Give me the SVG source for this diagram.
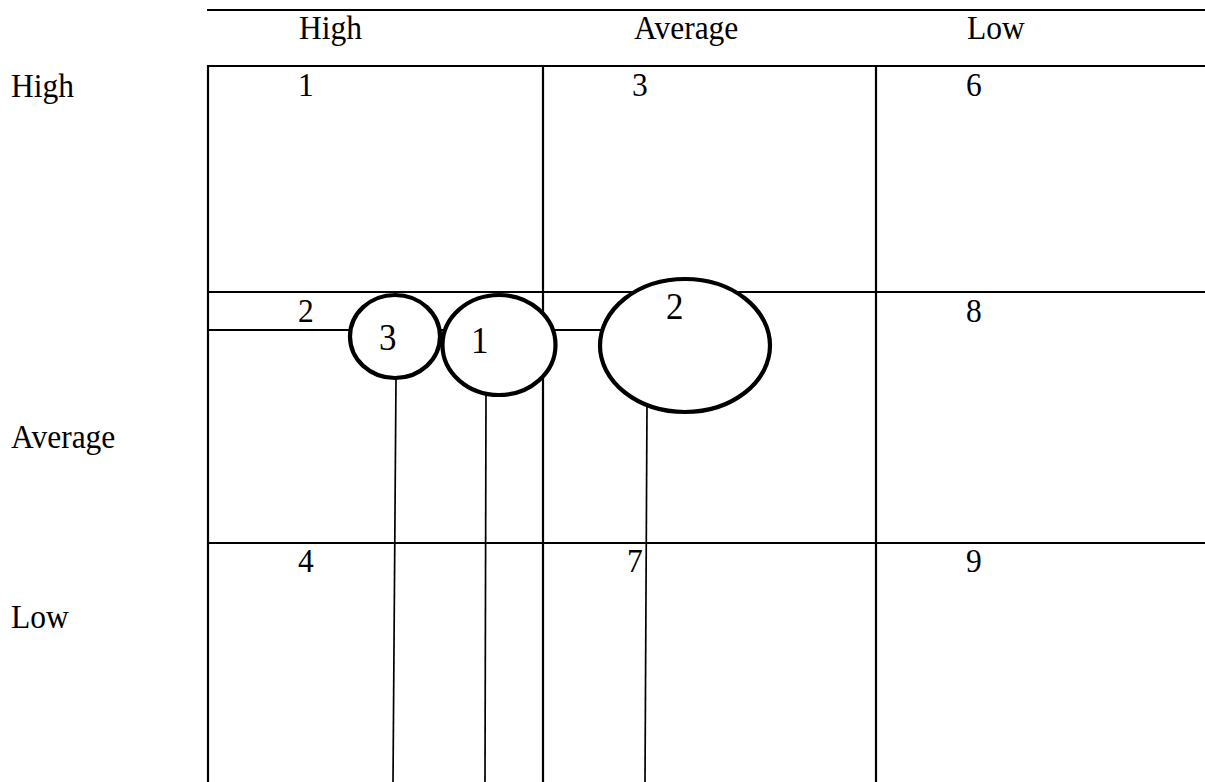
<svg xmlns="http://www.w3.org/2000/svg" width="1205" height="782" viewBox="0 0 1205 782">
<style>
.grid{stroke:#000;stroke-width:2.2;fill:none}
.conn{stroke:#000;stroke-width:1.7;fill:none}
.bub{stroke:#000;stroke-width:4.2;fill:#fff}
.t{font-family:"Liberation Serif","Times New Roman",serif;font-size:31.5px;fill:#000}
.tb{font-family:"Liberation Serif","Times New Roman",serif;font-size:35px;fill:#000}
</style>
<rect width="1205" height="782" fill="#fff"/>
<g id="grid">
<line class="grid" x1="207" y1="10" x2="1205" y2="10"/>
<line class="grid" x1="208" y1="66" x2="1205" y2="66"/>
<line class="grid" x1="208" y1="65" x2="208" y2="782"/>
<line class="grid" x1="543" y1="66" x2="543" y2="782"/>
<line class="grid" x1="876" y1="66" x2="876" y2="782"/>
<line class="grid" x1="208" y1="292" x2="1205" y2="292"/>
<line class="grid" x1="208" y1="330" x2="640" y2="330"/>
<line class="grid" x1="208" y1="543" x2="1205" y2="543"/>
</g>
<g id="labels">
<text class="t" transform="translate(299,39) scale(1,1.1)">High</text>
<text class="t" transform="translate(634,39) scale(1,1.1)">Average</text>
<text class="t" transform="translate(967,39) scale(1,1.1)">Low</text>
<text class="t" transform="translate(11,97) scale(1,1.1)">High</text>
<text class="t" transform="translate(11,448) scale(1,1.1)">Average</text>
<text class="t" transform="translate(11,628) scale(1,1.1)">Low</text>
<text class="t" transform="translate(298,96) scale(1,1.1)">1</text>
<text class="t" transform="translate(632,96) scale(1,1.1)">3</text>
<text class="t" transform="translate(966,96) scale(1,1.1)">6</text>
<text class="t" transform="translate(298,322) scale(1,1.1)">2</text>
<text class="t" transform="translate(966,322) scale(1,1.1)">8</text>
<text class="t" transform="translate(298,572) scale(1,1.1)">4</text>
<text class="t" transform="translate(627,572) scale(1,1.1)">7</text>
<text class="t" transform="translate(966,572) scale(1,1.1)">9</text>
</g>
<g id="connectors">
<line class="conn" x1="396" y1="378" x2="393" y2="782"/>
<line class="conn" x1="486" y1="395" x2="485" y2="782"/>
<line class="conn" x1="647" y1="405" x2="645" y2="782"/>
</g>
<g id="bubble-3">
<ellipse class="bub" cx="395" cy="336.5" rx="45" ry="41.5"/>
<text class="tb" transform="translate(379,350) scale(1,1.08)">3</text>
</g>
<g id="bubble-1">
<ellipse class="bub" cx="499" cy="345" rx="56.5" ry="50"/>
<text class="tb" transform="translate(471,353) scale(1,1.08)">1</text>
</g>
<g id="bubble-2">
<ellipse class="bub" cx="685" cy="345.5" rx="85" ry="66.5"/>
<text class="tb" transform="translate(666,319) scale(1,1.08)">2</text>
</g>
</svg>
